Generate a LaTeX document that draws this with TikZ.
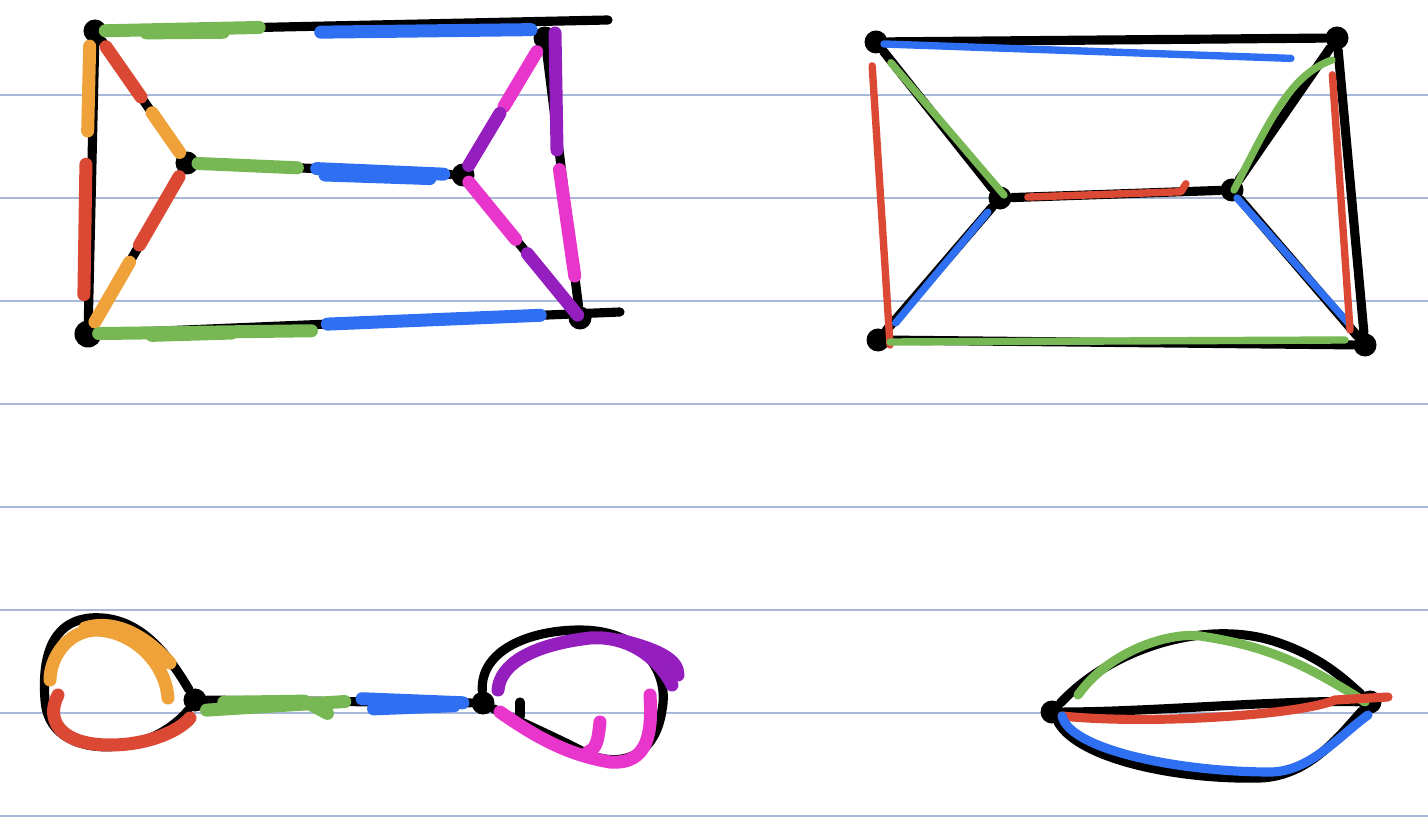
\documentclass[tikz,border=0pt]{standalone}
\usepackage{xcolor}
\usepackage{tikz}
\usetikzlibrary{calc}
\definecolor{PenGreen}{HTML}{77B855}
\definecolor{PenBlue}{HTML}{2F6FF2}
\definecolor{PenRed}{HTML}{DB4935}
\definecolor{PenOrange}{HTML}{EFA23A}
\definecolor{PenPink}{HTML}{E835CC}
\definecolor{PenPurple}{HTML}{951FBE}
\definecolor{RuleBlue}{HTML}{A8B8D8}

\begin{document}
\begin{tikzpicture}[
    x=0.01cm,y=-0.01cm,
    vtx/.style={circle, fill=black, inner sep=0pt, minimum size=0.23cm},
    edge/.style={draw=black, line width=2.6pt, line cap=round, line join=round},
    fat/.style={line width=3.7pt, line cap=round, line join=round},
    pen/.style={line width=2.1pt, line cap=round, line join=round},
    rule/.style={draw=RuleBlue, line width=0.5pt}
  ]
    \useasboundingbox (0,0) rectangle (1428,825);
    \foreach \y in {95,198,...,816}
      \draw[rule] (0,\y) -- (1428,\y);

    % prism, top left
    \node[vtx] (tl) at (95,31) {};
    \node[vtx] (tr) at (545,38) {};
    \node[vtx] (l) at (187,163) {};
    \node[vtx] (r) at (463,175) {};
    \node[vtx,minimum size=0.27cm] (bl) at (88,334) {};
    \node[vtx] (br) at (580,318) {};
    \coordinate (topend) at (608,20);
    \coordinate (botend) at (620,312);
    \draw[edge] (tl) -- (topend);
    \draw[edge] (tl) -- (bl) -- (botend);
    \draw[edge] (tl) -- (l) -- (bl);
    \draw[edge] (l) -- (r);
    \draw[edge] (tr) -- (r) -- (br) -- (tr);

    \draw[fat,PenGreen] ($(tl)!0.02!(topend)$) -- ($(tl)!0.32!(topend)$);
    \draw[fat,PenGreen] ($(tl)!0.1!(topend)+(0,3)$) -- ($(tl)!0.25!(topend)+(0,4)$);
    \draw[fat,PenBlue] ($(tl)!0.44!(topend)+(0,6)$) -- ($(tl)!0.85!(topend)+(0,8)$);
    \draw[fat,PenOrange] ($(tl)!0.05!(bl)+(-5,0)$) -- ($(tl)!0.33!(bl)+(-5,0)$);
    \draw[fat,PenRed] ($(tl)!0.44!(bl)+(-6,0)$) -- ($(tl)!0.87!(bl)+(-5,0)$);
    \draw[fat,PenRed] ($(tl)!0.12!(l)$) -- ($(tl)!0.5!(l)$);
    \draw[fat,PenOrange] ($(tl)!0.62!(l)$) -- ($(tl)!0.92!(l)$);
    \draw[fat,PenRed] ($(l)!0.08!(bl)$) -- ($(l)!0.48!(bl)$);
    \draw[fat,PenOrange] ($(l)!0.58!(bl)$) -- ($(l)!0.93!(bl)$);
    \draw[fat,PenGreen] ($(l)!0.04!(r)$) -- ($(l)!0.4!(r)$);
    \draw[fat,PenBlue] ($(l)!0.47!(r)$) -- ($(l)!0.93!(r)$);
    \draw[fat,PenBlue] ($(l)!0.5!(r)+(0,6)$) -- ($(l)!0.88!(r)+(0,5)$);
    \draw[fat,PenPink] ($(tr)!0.1!(r)$) -- ($(tr)!0.5!(r)$);
    \draw[fat,PenPurple] ($(tr)!0.55!(r)$) -- ($(tr)!0.93!(r)$);
    \draw[fat,PenPink] ($(r)!0.05!(br)$) -- ($(r)!0.45!(br)$);
    \draw[fat,PenPurple] ($(r)!0.55!(br)$) -- ($(r)!0.98!(br)$);
    \draw[fat,PenPurple] ($(tr)!0.0!(br)+(10,-5)$) -- ($(tr)!0.4!(br)+(-2,0)$);
    \draw[fat,PenPink] ($(tr)!0.47!(br)+(-2,0)$) -- ($(tr)!0.85!(br)+(0,0)$);
    \draw[fat,PenGreen] ($(bl)!0.02!(botend)$) -- ($(bl)!0.42!(botend)+(0,6)$);
    \draw[fat,PenGreen] ($(bl)!0.12!(botend)+(0,4)$) -- ($(bl)!0.27!(botend)+(0,5)$);
    \draw[fat,PenBlue] ($(bl)!0.45!(botend)$) -- ($(bl)!0.85!(botend)$);

    % second graph, top right
    \node[vtx] (ptl) at (876,42) {};
    \node[vtx] (ptr) at (1337,38) {};
    \node[vtx] (pl) at (1000,198) {};
    \node[vtx] (pr) at (1232,190) {};
    \node[vtx] (pbl) at (878,340) {};
    \node[vtx] (pbr) at (1365,345) {};
    \draw[edge] (ptl) -- (ptr) -- (pbr) -- (pbl) -- cycle;
    \draw[edge] (ptl) -- (pl) -- (pbl);
    \draw[edge] (pl) -- (pr);
    \draw[edge] (ptr) -- (pr) -- (pbr);

    \draw[pen,PenBlue] ($(ptl)+(8,2)$) -- ($(ptl)!0.9!(ptr)+(0,20)$);
    \draw[pen,PenRed] ($(ptl)!0.08!(pbl)+(-4,0)$) -- ($(pbl)+(12,5)$);
    \draw[pen,PenGreen] ($(ptl)!0.12!(pl)+(0,2)$) -- ($(pl)+(4,-3)$);
    \draw[pen,PenBlue] ($(pbl)!0.12!(pl)+(3,0)$) -- ($(pbl)!0.9!(pl)$);
    \draw[pen,PenRed] ($(pl)!0.12!(pr)$) -- ($(pl)!0.78!(pr)$) -- ++(5,-8);
    \draw[pen,PenGreen] ($(pr)+(2,0)$) .. controls (1270,120) and (1290,75) .. ($(ptr)+(-5,22)$);
    \draw[pen,PenBlue] ($(pr)+(5,8)$) -- ($(pbr)+(-15,-20)$);
    \draw[pen,PenRed] ($(ptr)!0.12!(pbr)+(-8,0)$) -- ($(pbr)+(-15,-15)$);
    \draw[pen,PenGreen] ($(pbl)+(12,2)$) -- ($(pbr)+(-20,-5)$);

    % two loops, bottom left
    \node[vtx] (a) at (195,700) {};
    \node[vtx] (b) at (483,703) {};
    \draw[edge] (a) .. controls (160,640) and (130,615) .. (90,618)
      .. controls (50,622) and (42,660) .. (45,700)
      .. controls (48,750) and (110,755) .. (150,738)
      .. controls (170,730) and (185,715) .. (a);
    \draw[edge] (a) -- (b);
    \draw[edge] (b) .. controls (480,650) and (530,630) .. (580,630)
      .. controls (640,630) and (670,670) .. (662,710)
      .. controls (655,760) and (615,770) .. (580,750)
      .. controls (540,730) and (505,715) .. (b);
    \draw[edge] (520,702) -- (520,716);

    \draw[fat,PenOrange] (168,698) .. controls (165,660) and (130,630) .. (95,630)
      .. controls (65,632) and (50,660) .. (50,680);
    \draw[fat,PenOrange] (170,663) .. controls (140,630) and (110,620) .. (85,628);
    \draw[fat,PenRed] (58,695) .. controls (45,720) and (60,745) .. (110,745)
      .. controls (150,745) and (180,730) .. (190,718);
    \draw[fat,PenGreen] ($(a)!0.04!(b)+(0,10)$) -- ($(a)!0.52!(b)$);
    \draw[fat,PenGreen] ($(a)!0.1!(b)+(0,2)$) -- ($(a)!0.38!(b)$) -- ($(a)!0.46!(b)+(0,12)$);
    \draw[fat,PenBlue] ($(a)!0.58!(b)+(0,-3)$) -- ($(a)!0.93!(b)$);
    \draw[fat,PenBlue] ($(a)!0.62!(b)+(0,7)$) -- ($(a)!0.9!(b)+(0,3)$);
    \draw[fat,PenPurple] (498,690) .. controls (500,665) and (530,645) .. (590,638)
      .. controls (630,635) and (660,660) .. (672,685);
    \draw[fat,PenPurple] (620,640) .. controls (660,650) and (678,660) .. (678,675);
    \draw[fat,PenPink] (500,712) .. controls (540,740) and (570,755) .. (610,762)
      .. controls (650,765) and (652,730) .. (650,695);
    \draw[fat,PenPink] (600,722) .. controls (598,740) and (597,748) .. (588,752);

    % three parallel edges, bottom right
    \node[vtx] (p) at (1052,712) {};
    \node[vtx] (q) at (1370,702) {};
    \draw[edge] (p) .. controls (1110,650) and (1200,620) .. (1270,640)
      .. controls (1320,655) and (1345,680) .. (q);
    \draw[edge] (p) .. controls (1150,712) and (1280,700) .. (q);
    \draw[edge] (p) .. controls (1080,760) and (1180,780) .. (1260,778)
      .. controls (1310,776) and (1340,735) .. (q);

    \draw[pen,line width=2.6pt,PenGreen] (1078,695) .. controls (1110,650) and (1170,632) .. (1200,636)
      .. controls (1260,645) and (1300,660) .. (1365,702);
    \draw[pen,line width=2.6pt,PenRed] (1062,716) .. controls (1150,725) and (1300,715) .. (1335,700) -- (1388,697);
    \draw[pen,line width=2.6pt,PenBlue] (1062,716) .. controls (1070,750) and (1180,772) .. (1270,772)
      .. controls (1310,772) and (1340,735) .. (1368,715);
  \end{tikzpicture}
\end{document}
